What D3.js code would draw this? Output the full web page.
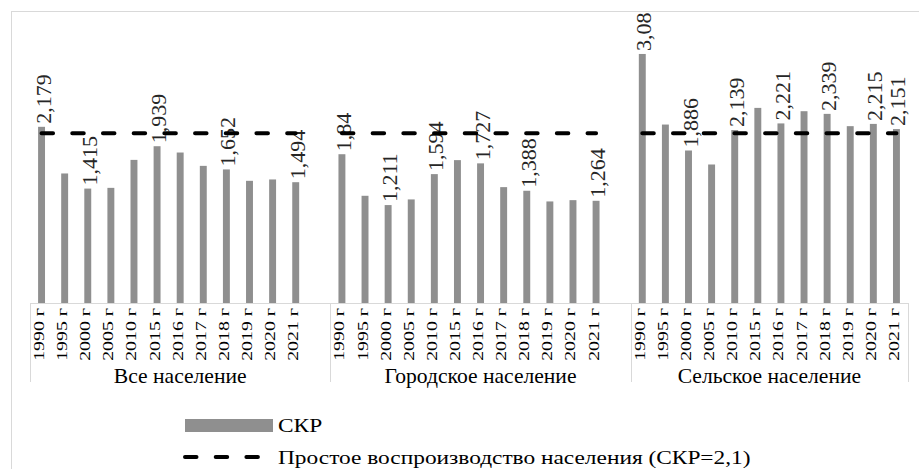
<!DOCTYPE html>
<html>
<head>
<meta charset="utf-8">
<script src="https://cdn.jsdelivr.net/npm/d3@7"></script>
<style>
  html, body { margin: 0; padding: 0; background: #fff; }
  svg { display: block; }
  svg text { font-family: "Liberation Serif", "Times New Roman", Times, serif; }
</style>
</head>
<body>
<svg id="chart" width="919" height="469"></svg>
<script>
// Total fertility rate (СКР) by population group
const groups = ["Все население", "Городское население", "Сельское население"];
const years = ["1990 г", "1995 г", "2000 г", "2005 г", "2010 г", "2015 г",
               "2016 г", "2017 г", "2018 г", "2019 г", "2020 г", "2021 г"];

const allPopulation = [2.179, 1.602, 1.415, 1.424, 1.770, 1.939, 1.861, 1.696, 1.652, 1.511, 1.528, 1.494];
const urbanPopulation = [1.84, 1.326, 1.211, 1.281, 1.594, 1.767, 1.727, 1.433, 1.388, 1.256, 1.272, 1.264];
const ruralPopulation = [3.08, 2.207, 1.886, 1.713, 2.139, 2.413, 2.221, 2.372, 2.339, 2.187, 2.215, 2.151];

// years whose bars carry a value label
const labelledAll = ["1990 г", "2000 г", "2015 г", "2018 г", "2021 г"];
const labelledUrban = ["1990 г", "2000 г", "2010 г", "2016 г", "2018 г", "2021 г"];
const labelledRural = ["1990 г", "2000 г", "2010 г", "2016 г", "2018 г", "2020 г", "2021 г"];

const replacementLevel = 2.1;

const seriesName = "СКР";
const lineName = "Простое воспроизводство населения (СКР=2,1)";

const groupValues = [allPopulation, urbanPopulation, ruralPopulation];
const groupLabelled = [labelledAll, labelledUrban, labelledRural];

// category slots: 12 years per group, an empty slot after the first two groups
const slots = [];
groups.forEach((g, gi) => {
  years.forEach((yr, i) => {
    slots.push({ key: g + "|" + yr, group: gi, year: yr, value: groupValues[gi][i],
                 labelled: groupLabelled[gi].includes(yr) });
  });
  if (gi < groups.length - 1) slots.push({ key: "gap" + gi, group: gi, year: null, value: null });
});

const FONT = "Liberation Serif";
const svg = d3.select("#chart");
const barColor = "#8f8f8f";
const gridColor = "#d9d9d9";

// chart frame
svg.append("rect")
  .attr("x", 11.5).attr("y", 11.5)
  .attr("width", 940).attr("height", 480)
  .attr("fill", "none").attr("stroke", gridColor).attr("stroke-width", 1);

const x = d3.scaleBand()
  .domain(slots.map(d => d.key))
  .range([30, 908])
  .paddingInner(0.7)
  .paddingOuter(0.35);

const y = d3.scaleLinear().domain([0, 3.5]).range([303, 20]);

const baseY = y(0);
const center = d => x(d.key) + x.bandwidth() / 2;
const fmt = v => String(v).replace(".", ",");

// bars
const data = slots.filter(d => d.value !== null);
svg.append("g").selectAll("rect")
  .data(data)
  .join("rect")
  .attr("x", d => x(d.key))
  .attr("y", d => y(d.value))
  .attr("width", x.bandwidth())
  .attr("height", d => baseY - y(d.value))
  .attr("fill", barColor);

// value labels, rotated
svg.append("g").selectAll("text")
  .data(data.filter(d => d.labelled))
  .join("text")
  .attr("transform", d => `translate(${center(d) + 9},${y(d.value) - 3}) rotate(-90)`)
  .attr("text-anchor", "start")
  .attr("font-family", FONT)
  .attr("font-size", 22)
  .attr("fill", "#262626")
  .text(d => fmt(d.value));

// category axis
const step = x.step();
const groupEdges = groups.map((g, gi) => {
  const inGroup = slots.filter(d => d.group === gi);
  const first = inGroup[0], last = inGroup[inGroup.length - 1];
  return [x(first.key) - (step - x.bandwidth()) / 2,
          x(last.key) + x.bandwidth() + (step - x.bandwidth()) / 2];
});

const axis = d3.axisBottom(x)
  .tickValues(data.map(d => d.key))
  .tickSize(0)
  .tickFormat(k => k.split("|")[1]);

const axisG = svg.append("g")
  .attr("transform", `translate(0,${baseY})`)
  .call(axis)
  .attr("font-family", FONT);
axisG.select(".domain").remove();
axisG.selectAll(".tick text")
  .attr("transform", "translate(2.5,5) rotate(-90) scale(1.4,1)")
  .attr("x", 0).attr("y", 0).attr("dy", null)
  .attr("text-anchor", "end")
  .attr("font-size", 14.2)
  .attr("font-family", FONT)
  .attr("fill", "#000");

// axis line and group separators
svg.append("line")
  .attr("x1", groupEdges[0][0]).attr("x2", groupEdges[2][1])
  .attr("y1", baseY + 0.5).attr("y2", baseY + 0.5)
  .attr("stroke", gridColor);
const seps = [groupEdges[0][0], groupEdges[1][0], groupEdges[2][0], groupEdges[2][1]];
svg.append("g").selectAll("line")
  .data(seps)
  .join("line")
  .attr("x1", d => Math.round(d) + 0.5).attr("x2", d => Math.round(d) + 0.5)
  .attr("y1", baseY).attr("y2", 382)
  .attr("stroke", gridColor);

// group names
svg.append("g").selectAll("text")
  .data(groups)
  .join("text")
  .attr("transform", (g, gi) => `translate(${(groupEdges[gi][0] + groupEdges[gi][1]) / 2},383) scale(1.08,1)`)
  .attr("text-anchor", "middle")
  .attr("font-family", FONT)
  .attr("font-size", 20)
  .attr("fill", "#000")
  .text(g => g);

// replacement-level line, one segment per group
const line = d3.line().x(d => center(d)).y(() => y(replacementLevel));
groups.forEach((g, gi) => {
  const pts = data.filter(d => d.group === gi);
  svg.append("path")
    .attr("d", line(pts))
    .attr("fill", "none")
    .attr("stroke", "#000")
    .attr("stroke-width", 4)
    .attr("stroke-dasharray", "11.5,19.2")
    .attr("stroke-linecap", "round");
});

// legend
const legend = svg.append("g");
legend.append("rect")
  .attr("x", 185).attr("y", 419).attr("width", 88).attr("height", 13)
  .attr("fill", barColor);
legend.append("text")
  .attr("transform", "translate(278,432) scale(1.23,1)")
  .attr("font-family", FONT)
  .attr("font-size", 19).attr("fill", "#000")
  .text(seriesName);
legend.append("line")
  .attr("x1", 185).attr("x2", 258)
  .attr("y1", 457).attr("y2", 457)
  .attr("stroke", "#000").attr("stroke-width", 4)
  .attr("stroke-dasharray", "11.5,19.2")
  .attr("stroke-linecap", "round");
legend.append("text")
  .attr("transform", "translate(278,464) scale(1.23,1)")
  .attr("font-family", FONT)
  .attr("font-size", 19).attr("fill", "#000")
  .text(lineName);
</script>
</body>
</html>
